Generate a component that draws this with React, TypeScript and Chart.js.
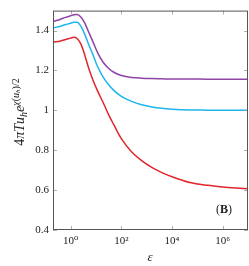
import React, { useEffect, useRef } from "react";
import { Chart, registerables } from "chart.js";

Chart.register(...registerables);

const logEps = [-0.7, -0.4, -0.2, 0, 0.12, 0.25, 0.4, 0.55, 0.7, 0.88, 1.05, 1.28, 1.5, 1.7, 2.0, 2.4, 2.8, 3.2, 3.6, 4.0, 4.7, 5.4, 6.0, 6.5, 7.0];
const purpleVals = [1.445, 1.457, 1.466, 1.474, 1.479, 1.481, 1.468, 1.438, 1.395, 1.343, 1.292, 1.241, 1.21, 1.191, 1.175, 1.165, 1.161, 1.159, 1.158, 1.157, 1.157, 1.156, 1.156, 1.156, 1.156];
const blueVals = [1.413, 1.422, 1.43, 1.437, 1.442, 1.442, 1.422, 1.382, 1.333, 1.278, 1.222, 1.167, 1.128, 1.1, 1.07, 1.045, 1.028, 1.017, 1.01, 1.006, 1.002, 1.001, 1.0, 1.0, 1.0];
const redVals = [1.342, 1.348, 1.355, 1.362, 1.366, 1.36, 1.333, 1.279, 1.215, 1.151, 1.1, 1.039, 0.977, 0.928, 0.858, 0.792, 0.748, 0.714, 0.688, 0.667, 0.638, 0.624, 0.616, 0.611, 0.607];

const xTickValues = [1, 100, 10000, 1000000];
const xTickLabels = ["10⁰", "10²", "10⁴", "10⁶"];
const yTickValues = [0.4, 0.6, 0.8, 1, 1.2, 1.4];
const yTickLabels = ["0.4", "0.6", "0.8", "1", "1.2", "1.4"];

const SERIF = "'Liberation Serif', 'DejaVu Serif', serif";

const decorPlugin = {
  id: "decor",
  afterDraw(chart: any) {
    const { ctx, chartArea } = chart;
    const { left, right, top, bottom } = chartArea;
    const xs = chart.scales.x;
    const ys = chart.scales.y;
    ctx.save();
    ctx.strokeStyle = "#9a9a9a";
    ctx.lineWidth = 0.8;
    const tl = 4;
    ctx.beginPath();
    xTickValues.forEach((v) => {
      const px = Math.round(xs.getPixelForValue(v)) + 0.5;
      ctx.moveTo(px, bottom);
      ctx.lineTo(px, bottom - tl);
      ctx.moveTo(px, top);
      ctx.lineTo(px, top + tl);
    });
    yTickValues.forEach((v) => {
      const py = Math.round(ys.getPixelForValue(v)) + 0.5;
      ctx.moveTo(left, py);
      ctx.lineTo(left + tl, py);
      ctx.moveTo(right, py);
      ctx.lineTo(right - tl, py);
    });
    ctx.stroke();
    ctx.strokeStyle = "#555";
    ctx.lineWidth = 1;
    ctx.strokeRect(left + 0.5, top + 0.5, right - left - 1, bottom - top - 1);

    ctx.fillStyle = "#222";
    ctx.font = `italic 13px ${SERIF}`;
    ctx.textAlign = "center";
    ctx.textBaseline = "alphabetic";
    ctx.fillText("ε", 150, 261);

    ctx.textAlign = "left";
    const parts: [string, string][] = [
      ["(", `12px ${SERIF}`],
      ["B", `bold 12px ${SERIF}`],
      [")", `12px ${SERIF}`],
    ];
    let w = 0;
    parts.forEach(([t, f]) => {
      ctx.font = f;
      w += ctx.measureText(t).width;
    });
    let x0 = 224 - w / 2;
    parts.forEach(([t, f]) => {
      ctx.font = f;
      ctx.fillText(t, x0, 213);
      x0 += ctx.measureText(t).width;
    });

    const pieces: [string, string, number][] = [
      ["4", `14px ${SERIF}`, 0],
      ["π", `italic 14px ${SERIF}`, 0],
      ["T", `italic 14px ${SERIF}`, 0],
      ["u", `italic 14px ${SERIF}`, 0],
      ["h", `italic 10px ${SERIF}`, 3],
      ["e", `italic 14px ${SERIF}`, 0],
      ["χ", `italic 10px ${SERIF}`, -5.5],
      ["(", `10px ${SERIF}`, -5.5],
      ["u", `italic 10px ${SERIF}`, -5.5],
      ["h", `italic 7px ${SERIF}`, -4],
      [")", `10px ${SERIF}`, -5.5],
      ["/2", `10px ${SERIF}`, -5.5],
    ];
    let tw = 0;
    pieces.forEach(([t, f]) => {
      ctx.font = f;
      tw += ctx.measureText(t).width;
    });
    ctx.translate(24, 112);
    ctx.rotate(-Math.PI / 2);
    let lx = -tw / 2;
    pieces.forEach(([t, f, dy]) => {
      ctx.font = f;
      ctx.fillText(t, lx, dy);
      lx += ctx.measureText(t).width;
    });
    ctx.restore();
  },
};

export default function App() {
  const ref = useRef<HTMLCanvasElement>(null);
  useEffect(() => {
    if (!ref.current) return;
    const eps = logEps.map((l) => Math.pow(10, l));
    const mk = (vals: number[], color: string) => ({
      data: eps.map((e, i) => ({ x: e, y: vals[i] })),
      borderColor: color,
      backgroundColor: color,
      borderWidth: 1.5,
      pointRadius: 0,
      cubicInterpolationMode: "monotone" as const,
      fill: false,
    });
    const chart = new Chart(ref.current, {
      type: "line",
      data: {
        datasets: [
          mk(purpleVals, "#8e44a6"),
          mk(blueVals, "#1cb6ee"),
          mk(redVals, "#e0262c"),
        ],
      },
      options: {
        responsive: false,
        animation: false,
        devicePixelRatio: 1,
        layout: { padding: { top: 0, right: 1, left: 0, bottom: 0 } },
        plugins: { legend: { display: false }, tooltip: { enabled: false } },
        scales: {
          x: {
            type: "logarithmic",
            min: Math.pow(10, -0.7),
            max: 1e7,
            grid: { display: false, drawTicks: false },
            border: { display: false },
            afterBuildTicks: (s: any) => {
              s.ticks = xTickValues.map((v) => ({ value: v }));
            },
            afterFit: (s: any) => {
              s.height = 36;
            },
            ticks: {
              autoSkip: false,
              maxRotation: 0,
              padding: 5,
              color: "#222",
              font: { family: SERIF, size: 11 },
              callback: (v: any) => {
                const i = xTickValues.indexOf(Number(v));
                return i >= 0 ? xTickLabels[i] : "";
              },
            },
          },
          y: {
            min: 0.4,
            max: 1.5,
            grid: { display: false, drawTicks: false },
            border: { display: false },
            afterBuildTicks: (s: any) => {
              s.ticks = yTickValues.map((v) => ({ value: v }));
            },
            afterFit: (s: any) => {
              s.width = 53;
            },
            ticks: {
              autoSkip: false,
              padding: 4,
              color: "#222",
              font: { family: SERIF, size: 11 },
              callback: (v: any) => {
                const i = yTickValues.findIndex((t) => Math.abs(t - Number(v)) < 1e-6);
                return i >= 0 ? yTickLabels[i] : "";
              },
            },
          },
        },
      },
      plugins: [decorPlugin],
    });
    return () => chart.destroy();
  }, []);
  return (
    <div style={{ position: "absolute", left: 0, top: 0, width: 249, height: 266, background: "#fff" }}>
      <canvas ref={ref} width={249} height={266} style={{ display: "block" }} />
    </div>
  );
}
